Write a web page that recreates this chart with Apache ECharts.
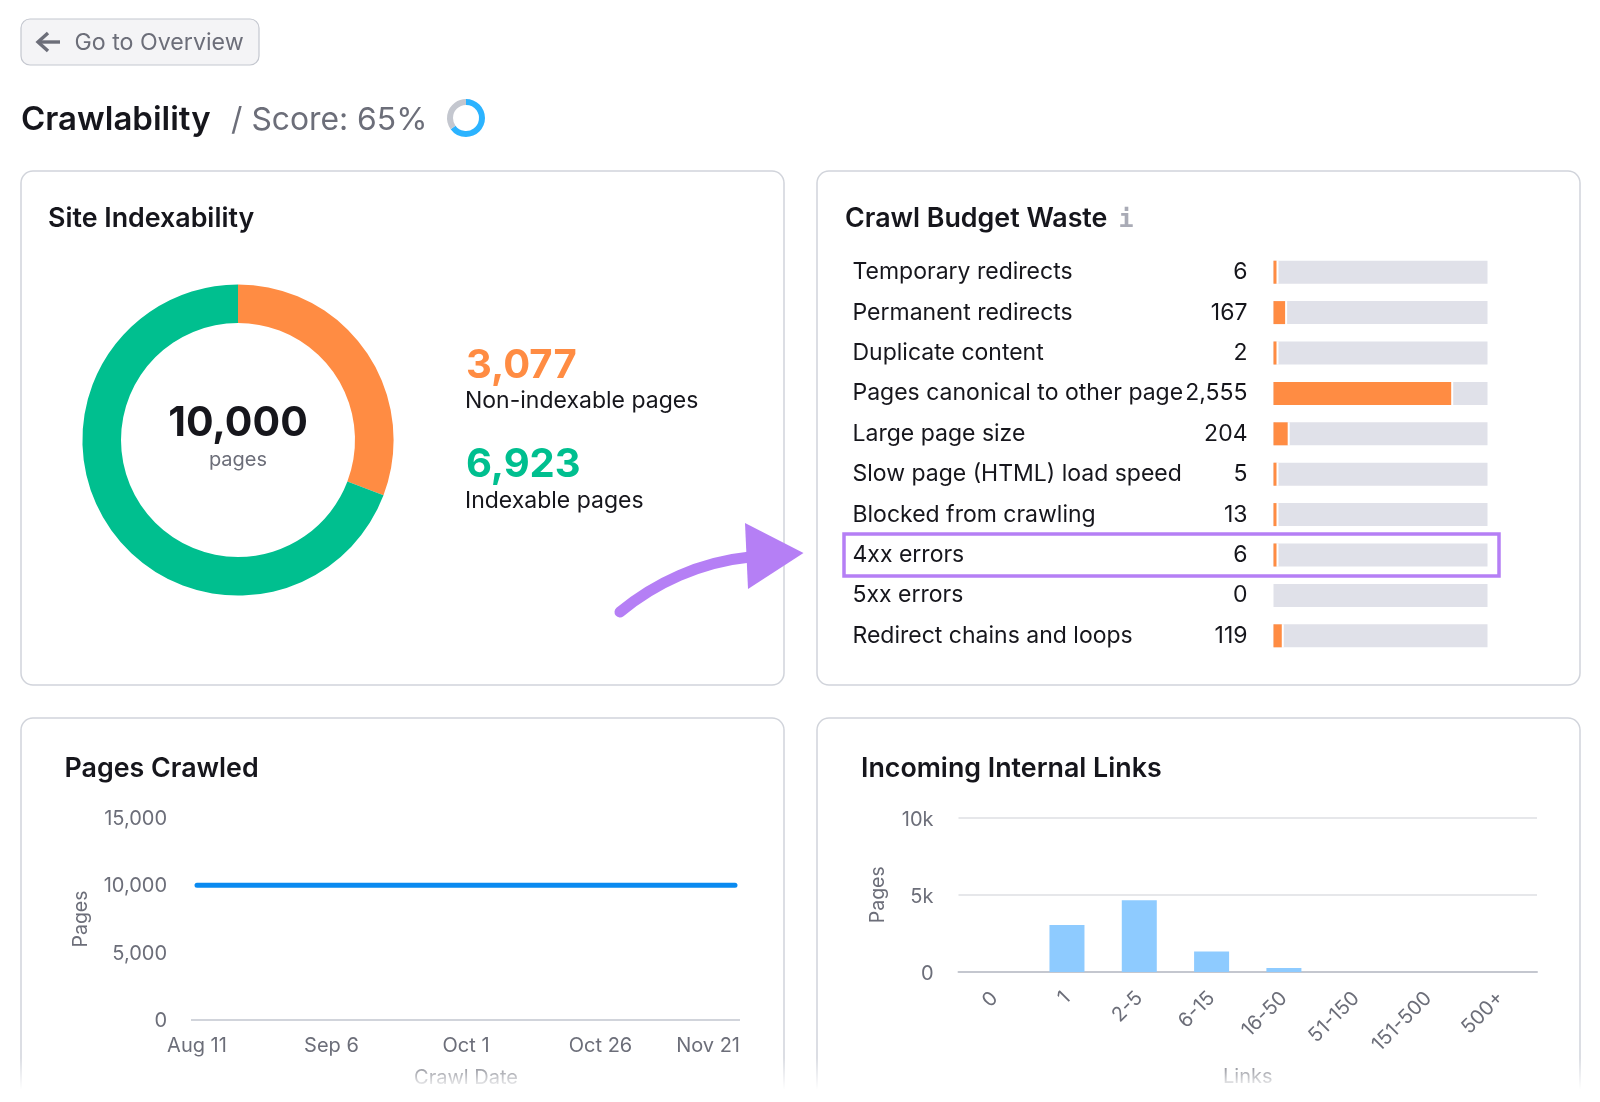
<!DOCTYPE html>
<html>
<head>
<meta charset="utf-8">
<title>Crawlability</title>
<script src="https://cdn.jsdelivr.net/npm/echarts@6/dist/echarts.min.js"></script>
<style>
  html, body { margin: 0; padding: 0; background: #fff; }
  #chart { width: 1600px; height: 1102px; }
</style>
</head>
<body>
<div id="chart"></div>
<script>
// values
const scoreValues = [65, 35];

const indexNames = ['Non-indexable pages', 'Indexable pages'];
const indexValues = [3077, 6923];

const wasteNames = [
  'Temporary redirects', 'Permanent redirects', 'Duplicate content',
  'Pages canonical to other page', 'Large page size', 'Slow page (HTML) load speed',
  'Blocked from crawling', '4xx errors', '5xx errors', 'Redirect chains and loops'
];
const wasteValues = [6, 167, 2, 2555, 204, 5, 13, 6, 0, 119];

const crawlDates = ['Aug 11', 'Sep 6', 'Oct 1', 'Oct 26', 'Nov 21'];
const crawledPages = [10000, 10000, 10000, 10000, 10000];

const linkBuckets = ['0', '1', '2-5', '6-15', '16-50', '51-150', '151-500', '500+'];
const linkPages = [0, 3050, 4650, 1320, 260, 0, 0, 0];

const FONT = 'Inter, "Noto Sans", sans-serif';
const DARK = '#16161c';
const GRAY = '#6c6e79';
const ORANGE = '#ff8c43';
const GREEN = '#00bf8f';
const PURPLE = '#b57ff5';

function txt(x, y, text, size, fill, weight, align) {
  return {
    type: 'text', x: x, y: y, z: 10,
    style: {
      text: text, fill: fill,
      font: (weight || 400) + ' ' + size + 'px ' + FONT,
      textAlign: align || 'left', textVerticalAlign: 'middle'
    }
  };
}

function card(x, y, w, h) {
  return {
    type: 'rect', z: 0,
    shape: { x: x, y: y, width: w, height: h, r: 12 },
    style: { fill: '#fff', stroke: '#d1d4db', lineWidth: 1.5 }
  };
}

const graphics = [
  // back button
  { type: 'rect', z: 1, shape: { x: 21, y: 19, width: 238, height: 46, r: 9 },
    style: { fill: '#f4f4f6', stroke: '#c4c7cf', lineWidth: 1.2 } },
  { type: 'polyline', z: 2, shape: { points: [[48, 33], [38, 42], [48, 51]] },
    style: { fill: 'none', stroke: GRAY, lineWidth: 3.4 } },
  { type: 'line', z: 2, shape: { x1: 38, y1: 42, x2: 60, y2: 42 },
    style: { stroke: GRAY, lineWidth: 3.4 } },
  txt(74.5, 43, 'Go to Overview', 23.2, GRAY),

  txt(21, 120, 'Crawlability', 33, DARK, 600),
  txt(231, 120, '/ Score: 65%', 31.8, GRAY),

  card(21, 171, 763, 514),
  card(817, 171, 763, 514),
  card(21, 718, 763, 420),
  card(817, 718, 763, 420),

  txt(48, 219, 'Site Indexability', 26.8, DARK, 600),
  txt(238, 424, '10,000', 41, DARK, 700, 'center'),
  txt(238, 460, 'pages', 20, GRAY, 400, 'center'),
  txt(466, 366, indexValues[0].toLocaleString('en-US'), 40, ORANGE, 700),
  txt(465, 401, indexNames[0], 23, DARK),
  txt(466, 465, indexValues[1].toLocaleString('en-US'), 40, GREEN, 700),
  txt(465, 501, indexNames[1], 23, DARK),

  txt(845, 219, 'Crawl Budget Waste', 26.8, DARK, 600),
  { type: 'text', x: 1126, y: 220, z: 10,
    style: { text: 'i', fill: '#a9abb6', font: '700 25px "DejaVu Sans Mono", monospace',
      textAlign: 'center', textVerticalAlign: 'middle' } },

  txt(64.5, 769, 'Pages Crawled', 26.8, DARK, 600),
  txt(861, 769, 'Incoming Internal Links', 26.8, DARK, 600),

  // axis line runs a little past the first and last points
  { type: 'line', z: 3, shape: { x1: 191, y1: 1020, x2: 740, y2: 1020 },
    style: { stroke: '#d1d4db', lineWidth: 2 } },

  // highlight box + arrow
  { type: 'rect', z: 12, shape: { x: 844, y: 534, width: 655, height: 42 },
    style: { fill: 'none', stroke: PURPLE, lineWidth: 3.5 } },
  { type: 'bezierCurve', z: 12,
    shape: { x1: 620, y1: 612, cpx1: 655, cpy1: 583, cpx2: 700, cpy2: 562, x2: 750, y2: 557 },
    style: { fill: 'none', stroke: PURPLE, lineWidth: 11, lineCap: 'round' } },
  { type: 'polygon', z: 12, shape: { points: [[745, 523], [803.5, 553], [748, 589]] },
    style: { fill: PURPLE } },

  // the screenshot fades out at the bottom
  { type: 'rect', z: 20, shape: { x: 0, y: 1058, width: 1600, height: 44 },
    style: { fill: { type: 'linear', x: 0, y: 0, x2: 0, y2: 1, colorStops: [
      { offset: 0, color: 'rgba(255,255,255,0)' },
      { offset: 0.72, color: 'rgba(255,255,255,1)' },
      { offset: 1, color: 'rgba(255,255,255,1)' }
    ] } } }
];

const axisText = { color: GRAY, fontFamily: FONT, fontSize: 20 };
const dateItems = crawlDates.map((d, i) =>
  i === crawlDates.length - 1 ? { value: d, textStyle: { align: 'right', padding: [0, -5, 0, 0] } } : d);

const option = {
  animation: false,
  backgroundColor: '#fff',
  graphic: { elements: graphics },
  grid: [
    { left: 1273.5, top: 252, width: 214, height: 404 },
    { left: 197, top: 818, width: 538, height: 202 },
    { left: 958.5, top: 817.5, width: 578.5, height: 154.5 }
  ],
  xAxis: [
    { gridIndex: 0, type: 'value', min: 0, max: 3077, show: false },
    { gridIndex: 1, type: 'category', data: dateItems, boundaryGap: false,
      axisLine: { show: false }, axisTick: { show: false },
      axisLabel: { ...axisText, margin: 16 },
      name: 'Crawl Date', nameLocation: 'middle', nameGap: 48,
      nameTextStyle: { ...axisText } },
    { gridIndex: 2, type: 'category', data: linkBuckets,
      axisLine: { lineStyle: { color: '#c4c7cf', width: 2 } }, axisTick: { show: false },
      axisLabel: { ...axisText, rotate: 45, margin: 23, interval: 0 },
      name: 'Links', nameLocation: 'middle', nameGap: 95,
      nameTextStyle: { ...axisText } }
  ],
  yAxis: [
    { gridIndex: 0, type: 'category', inverse: true, data: wasteNames,
      axisLine: { show: false }, axisTick: { show: false },
      axisLabel: { color: DARK, fontFamily: FONT, fontSize: 23, align: 'left', margin: 421, interval: 0 } },
    { gridIndex: 0, type: 'category', inverse: true, position: 'left',
      data: wasteValues.map(v => v.toLocaleString('en-US')),
      axisLine: { show: false }, axisTick: { show: false },
      axisLabel: { color: DARK, fontFamily: FONT, fontSize: 23, align: 'right', margin: 26, interval: 0 } },
    { gridIndex: 1, type: 'value', min: 0, max: 15000, interval: 5000,
      axisLine: { show: false }, axisTick: { show: false }, splitLine: { show: false },
      axisLabel: { ...axisText, margin: 30, verticalAlign: 'top', padding: [-9, 0, 0, 0], formatter: v => v.toLocaleString('en-US') },
      name: 'Pages', nameLocation: 'middle', nameGap: 106, nameTextStyle: { ...axisText, fontSize: 19.5 } },
    { gridIndex: 2, type: 'value', min: 0, max: 10000, interval: 5000,
      axisLine: { show: false }, axisTick: { show: false },
      splitLine: { lineStyle: { color: '#e6e7ea', width: 2 } },
      axisLabel: { ...axisText, margin: 25, verticalAlign: 'top', padding: [-8, 0, 0, 0], formatter: v => (v ? v / 1000 + 'k' : '0') },
      name: 'Pages', nameLocation: 'middle', nameGap: 70, nameTextStyle: { ...axisText, fontSize: 19.5 } }
  ],
  series: [
    { type: 'pie', center: [466, 118], radius: [13, 19], startAngle: 90, silent: true,
      label: { show: false }, labelLine: { show: false },
      color: ['#2bb3ff', '#c4c7cf'], data: scoreValues },
    { type: 'pie', center: [238, 440], radius: [117, 155.6], startAngle: 90, silent: true,
      label: { show: false }, labelLine: { show: false },
      color: [ORANGE, GREEN],
      data: indexNames.map((n, i) => ({ name: n, value: indexValues[i] })) },
    { type: 'bar', xAxisIndex: 0, yAxisIndex: 0, barWidth: 23, barMinHeight: 3,
      showBackground: true, backgroundStyle: { color: '#e0e1e9' },
      itemStyle: { color: ORANGE, shadowColor: '#fff', shadowBlur: 0, shadowOffsetX: 2 },
      data: wasteValues.map(v => (v === 0 ? null : v)) },
    { type: 'line', xAxisIndex: 1, yAxisIndex: 2, showSymbol: false, symbol: 'none',
      lineStyle: { color: '#0a8af0', width: 5, cap: 'round' }, data: crawledPages },
    { type: 'bar', xAxisIndex: 2, yAxisIndex: 3, barWidth: 35,
      itemStyle: { color: '#8ecbff' }, data: linkPages }
  ]
};

const chart = echarts.init(document.getElementById('chart'));
chart.setOption(option);
</script>
</body>
</html>
